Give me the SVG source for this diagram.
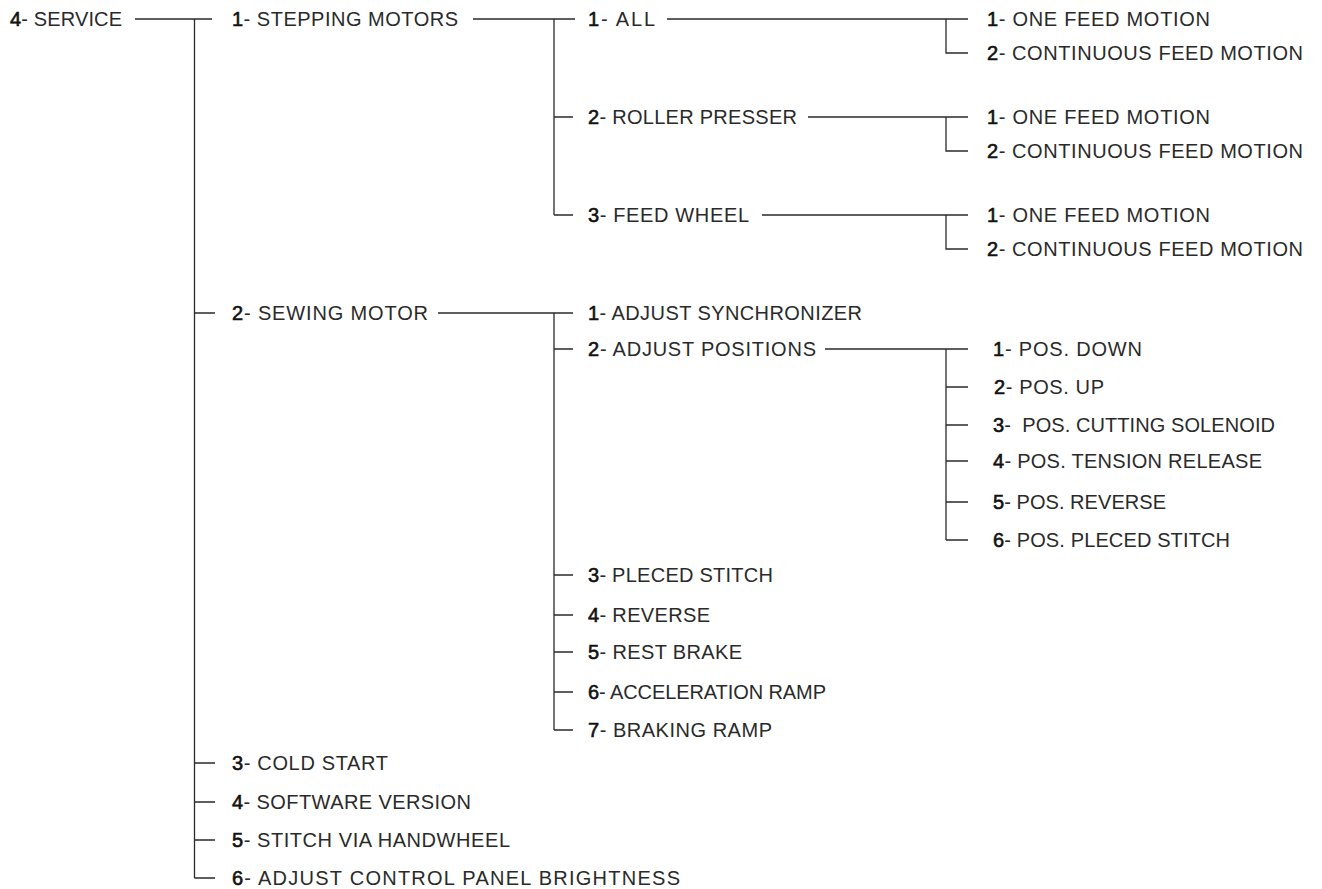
<svg xmlns="http://www.w3.org/2000/svg" width="1322" height="889" viewBox="0 0 1322 889">
<style>
text{font-family:"Liberation Sans",Arial,Helvetica,sans-serif;font-size:20px;fill:#2a2a2a;}
.n{fill:#111;stroke:#111;stroke-width:0.6;}
.c path{fill:none;stroke:#2a2a2a;stroke-width:1.3;}
</style>
<rect width="1322" height="889" fill="#fff"/>
<g class="c" id="connectors">
<path d="M135 19H212M194.5 19V878M194.5 313H215M194.5 763H215M194.5 802H215M194.5 840H215M194.5 878H215"/>
<path d="M473 19H575M554 19V215M554 117H573M554 215H573"/>
<path d="M667 19H968M946 19V53H968"/>
<path d="M808 117H968M946 117V151H968"/>
<path d="M762 215H968M946 215V249H968"/>
<path d="M438 313H573M554 313V730M554 349H573M554 575H573M554 615H573M554 652H573M554 692H573M554 730H573"/>
<path d="M825 349H968M946 349V540M946 387H968M946 425H968M946 461H968M946 502H968M946 540H968"/>
</g>
<g id="n-service"><text x="10" y="26" textLength="112" lengthAdjust="spacing"><tspan class="n">4</tspan>- SERVICE</text></g>
<g id="n-stepping"><text x="232" y="26" textLength="226" lengthAdjust="spacing"><tspan class="n">1</tspan>- STEPPING MOTORS</text></g>
<g id="n-all"><text x="588" y="26" textLength="67" lengthAdjust="spacing"><tspan class="n">1</tspan>- ALL</text></g>
<g id="n-all-1"><text x="987" y="26" textLength="223" lengthAdjust="spacing"><tspan class="n">1</tspan>- ONE FEED MOTION</text></g>
<g id="n-all-2"><text x="987" y="60" textLength="316" lengthAdjust="spacing"><tspan class="n">2</tspan>- CONTINUOUS FEED MOTION</text></g>
<g id="n-roller"><text x="588" y="124" textLength="209" lengthAdjust="spacing"><tspan class="n">2</tspan>- ROLLER PRESSER</text></g>
<g id="n-roller-1"><text x="987" y="124" textLength="223" lengthAdjust="spacing"><tspan class="n">1</tspan>- ONE FEED MOTION</text></g>
<g id="n-roller-2"><text x="987" y="158" textLength="316" lengthAdjust="spacing"><tspan class="n">2</tspan>- CONTINUOUS FEED MOTION</text></g>
<g id="n-feed"><text x="588" y="222" textLength="161" lengthAdjust="spacing"><tspan class="n">3</tspan>- FEED WHEEL</text></g>
<g id="n-feed-1"><text x="987" y="222" textLength="223" lengthAdjust="spacing"><tspan class="n">1</tspan>- ONE FEED MOTION</text></g>
<g id="n-feed-2"><text x="987" y="256" textLength="316" lengthAdjust="spacing"><tspan class="n">2</tspan>- CONTINUOUS FEED MOTION</text></g>
<g id="n-sewing"><text x="232" y="320" textLength="196" lengthAdjust="spacing"><tspan class="n">2</tspan>- SEWING MOTOR</text></g>
<g id="n-sync"><text x="588" y="320" textLength="274" lengthAdjust="spacing"><tspan class="n">1</tspan>- ADJUST SYNCHRONIZER</text></g>
<g id="n-positions"><text x="588" y="356" textLength="228" lengthAdjust="spacing"><tspan class="n">2</tspan>- ADJUST POSITIONS</text></g>
<g id="n-pos-1"><text x="993" y="356" textLength="149" lengthAdjust="spacing"><tspan class="n">1</tspan>- POS. DOWN</text></g>
<g id="n-pos-2"><text x="994" y="394" textLength="110" lengthAdjust="spacing"><tspan class="n">2</tspan>- POS. UP</text></g>
<g id="n-pos-3"><text x="993" y="432" textLength="282" lengthAdjust="spacing"><tspan class="n">3</tspan>-&#160; POS. CUTTING SOLENOID</text></g>
<g id="n-pos-4"><text x="993" y="468" textLength="269" lengthAdjust="spacing"><tspan class="n">4</tspan>- POS. TENSION RELEASE</text></g>
<g id="n-pos-5"><text x="993" y="509" textLength="173" lengthAdjust="spacing"><tspan class="n">5</tspan>- POS. REVERSE</text></g>
<g id="n-pos-6"><text x="993" y="547" textLength="237" lengthAdjust="spacing"><tspan class="n">6</tspan>- POS. PLECED STITCH</text></g>
<g id="n-pleced"><text x="588" y="582" textLength="185" lengthAdjust="spacing"><tspan class="n">3</tspan>- PLECED STITCH</text></g>
<g id="n-reverse"><text x="588" y="622" textLength="122" lengthAdjust="spacing"><tspan class="n">4</tspan>- REVERSE</text></g>
<g id="n-rest"><text x="588" y="659" textLength="154" lengthAdjust="spacing"><tspan class="n">5</tspan>- REST BRAKE</text></g>
<g id="n-accel"><text x="588" y="699" textLength="238" lengthAdjust="spacing"><tspan class="n">6</tspan>- ACCELERATION RAMP</text></g>
<g id="n-braking"><text x="588" y="737" textLength="184" lengthAdjust="spacing"><tspan class="n">7</tspan>- BRAKING RAMP</text></g>
<g id="n-cold"><text x="232" y="770" textLength="156" lengthAdjust="spacing"><tspan class="n">3</tspan>- COLD START</text></g>
<g id="n-software"><text x="232" y="809" textLength="239" lengthAdjust="spacing"><tspan class="n">4</tspan>- SOFTWARE VERSION</text></g>
<g id="n-handwheel"><text x="232" y="847" textLength="278" lengthAdjust="spacing"><tspan class="n">5</tspan>- STITCH VIA HANDWHEEL</text></g>
<g id="n-brightness"><text x="232" y="885" textLength="448" lengthAdjust="spacing"><tspan class="n">6</tspan>- ADJUST CONTROL PANEL BRIGHTNESS</text></g>
</svg>
